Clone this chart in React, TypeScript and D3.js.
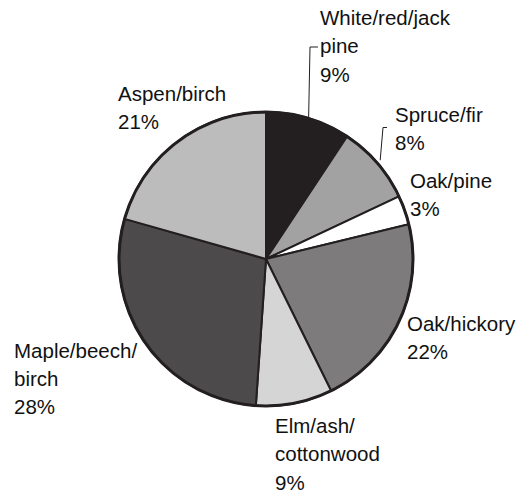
import React from "react";
import * as d3 from "d3";

const categories = ["White/red/jack pine", "Spruce/fir", "Oak/pine", "Oak/hickory", "Elm/ash/cottonwood", "Maple/beech/birch", "Aspen/birch"];
const values = [9.3, 8.7, 3.2, 21.5, 8.4, 28.3, 20.6];
const percentLabels = ["9%", "8%", "3%", "22%", "9%", "28%", "21%"];
const labelLines = [
  ["White/red/jack", "pine"],
  ["Spruce/fir"],
  ["Oak/pine"],
  ["Oak/hickory"],
  ["Elm/ash/", "cottonwood"],
  ["Maple/beech/", "birch"],
  ["Aspen/birch"],
];
const colors = ["#231f20", "#a3a2a2", "#ffffff", "#7d7b7c", "#d5d5d5", "#4d4a4b", "#bdbcbc"];

const W = 521, H = 493;
const cx = 266, cy = 259, R = 147;
const labelPos = [
  { x: 320, y: 25 },
  { x: 395, y: 121.5 },
  { x: 410, y: 187.5 },
  { x: 407, y: 330.5 },
  { x: 275, y: 433 },
  { x: 14, y: 357.5 },
  { x: 118, y: 101 },
];
const lineH = 28.3;

export default function App() {
  const pie = d3.pie<number>().sort(null).value((d) => d);
  const arcs = pie(values);
  const arc = d3.arc<d3.PieArcDatum<number>>().innerRadius(0).outerRadius(R);
  const edge = (a: d3.PieArcDatum<number>, r: number) => {
    const m = (a.startAngle + a.endAngle) / 2;
    return [cx + r * Math.sin(m), cy - r * Math.cos(m)];
  };
  const p0 = edge(arcs[0], R + 1);
  const p1 = edge(arcs[1], R + 4);
  const leaders = [
    `M${p0[0]},${p0[1]} L310,47 L318,47`,
    `M${p1[0]},${p1[1]} L383,127.5 L387,127.5`,
  ];
  return (
    <svg width={W} height={H} style={{ position: "absolute", left: 0, top: 0, background: "#fff" }}
      fontFamily="'Liberation Sans', Arial, sans-serif">
      <g transform={`translate(${cx},${cy})`}>
        {arcs.map((a, i) => (
          <path key={categories[i]} d={arc(a) || ""} fill={colors[i]} stroke="#231f20" strokeWidth={2} strokeLinejoin="round" />
        ))}
        <circle r={R} fill="none" stroke="#231f20" strokeWidth={3} />
      </g>
      {leaders.map((d, i) => (
        <path key={i} d={d} fill="none" stroke="#231f20" strokeWidth={1} />
      ))}
      {labelLines.map((lines, i) => (
        <text key={categories[i]} x={labelPos[i].x} y={labelPos[i].y} fontSize={20.5} fill="#111">
          {[...lines, percentLabels[i]].map((t, j) => (
            <tspan key={j} x={labelPos[i].x} y={labelPos[i].y + j * lineH}>{t}</tspan>
          ))}
        </text>
      ))}
    </svg>
  );
}
